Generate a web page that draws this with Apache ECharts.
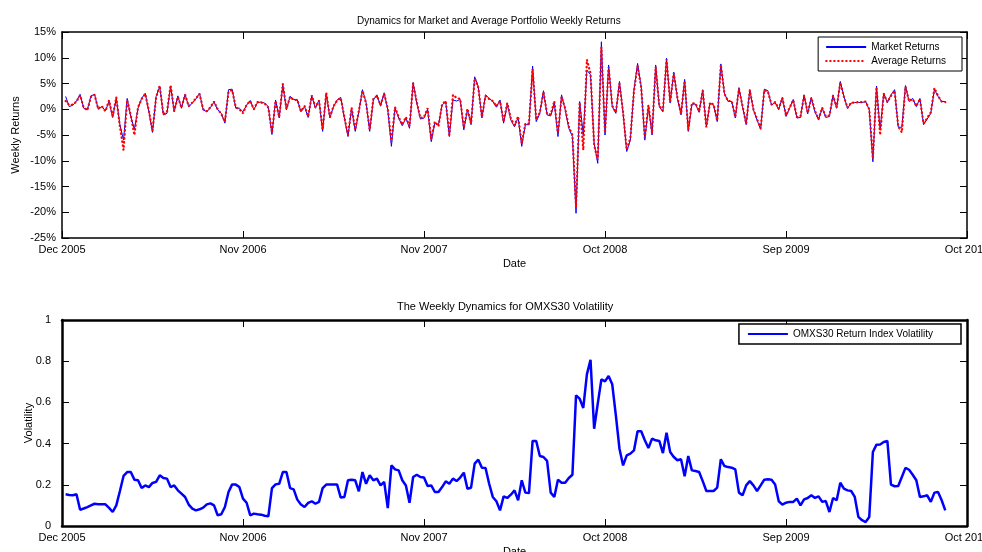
<!DOCTYPE html>
<html>
<head>
<meta charset="utf-8">
<title>Weekly Returns and OMXS30 Volatility</title>
<script src="https://cdn.jsdelivr.net/npm/echarts@6/dist/echarts.min.js"></script>
<style>
  html, body { margin: 0; padding: 0; background: #fff; overflow: hidden; }
  #chart { width: 982px; height: 552px; }
</style>
</head>
<body>
<div id="chart"></div>
<script>
// Date labels placed every 50 weeks along the observation index
const tickLabels = ["Dec 2005", "Nov 2006", "Nov 2007", "Oct 2008", "Sep 2009", "Oct 2010"];

// Weekly market returns, in percent
const marketReturns = [
  2.5, 0.5, 0.8, 1.6, 2.9, 0.2, -0.1, 2.6, 2.9, 0.0,
  0.5, -0.3, 1.5, -1.6, 2.1, -3.0, -6.0, 2.1, -1.4, -3.9,
  0.2, 2.1, 3.1, -0.5, -4.5, 2.5, 4.4, -1.1, -0.8, 4.5,
  -0.5, 2.6, 0.2, 2.9, 0.5, 1.2, 2.0, 3.1, -0.1, -0.5,
  0.3, 1.4, -0.1, -0.8, -2.7, 3.8, 3.9, 0.2, 0.2, -0.5,
  0.8, 1.7, -0.1, 1.3, 1.4, 1.2, 0.5, -4.9, 1.8, -1.7,
  4.7, -0.1, 2.5, 1.9, 1.9, -0.5, 0.5, -1.6, 2.6, 0.2,
  1.8, -4.3, 3.1, -1.7, 0.5, 1.8, 2.3, -1.7, -5.3, 0.2,
  -4.3, -0.5, 3.8, 1.3, -4.3, 1.8, 2.8, 0.6, 3.2, -0.1,
  -7.2, 0.2, -1.7, -3.2, -1.7, -3.7, 5.2, 1.2, -1.9, -1.7,
  0.0, -6.3, -2.7, -3.0, 0.8, 1.5, -5.3, 1.8, 1.6, 1.9,
  -4.0, -0.1, -3.0, 6.3, 4.4, -1.7, 2.8, 2.1, 1.5, 0.4,
  1.8, -2.7, 1.0, -2.1, -3.4, -1.6, -7.2, -3.0, -3.0, 8.4,
  -2.4, -0.8, 3.6, -1.1, -1.3, 1.2, -5.3, 2.8, -0.1, -3.7,
  -5.3, -20.2, 1.5, -5.0, 7.6, 6.7, -6.6, -10.5, 13.1, -5.0,
  8.6, 0.5, -0.8, 5.4, -0.8, -8.2, -6.0, 3.8, 8.9, 4.4,
  -6.0, 0.6, -5.0, 8.6, 0.5, -0.5, 9.9, 1.2, 7.2, 2.1,
  -1.1, 5.8, -4.3, 1.0, 1.0, -0.6, 3.8, -3.4, 1.2, 0.8,
  -2.4, 8.8, 3.1, 1.5, 1.5, -1.7, 4.2, 0.5, -3.0, 3.8,
  -0.1, -2.1, -3.9, 3.9, 3.6, 0.8, 1.3, -0.1, 2.3, -1.4,
  0.2, 1.9, -1.7, -1.6, 2.8, -0.9, 2.3, -0.5, -2.1, 0.2,
  -1.6, -1.4, 2.8, 0.2, 5.4, 2.5, 0.2, 1.2, 1.3, 1.3,
  1.3, 1.5, -0.1, -10.2, 4.5, -4.0, 3.1, 1.3, 2.8, 3.8,
  -3.5, -3.5, 4.6, 1.5, 2.1, 0.5, 2.1, -3.0, -1.9, -0.8,
  3.8, 2.5, 1.5, 1.5
];

// Weekly average portfolio returns, in percent
const averageReturns = [
  1.6, 0.8, 0.9, 1.5, 2.7, 0.3, -0.2, 2.4, 2.8, 0.1,
  0.6, -0.4, 1.7, -1.3, 2.3, -3.4, -7.9, 1.8, -1.2, -5.0,
  0.4, 2.0, 3.0, -0.3, -4.2, 2.3, 4.6, -1.0, -0.6, 4.7,
  -0.3, 2.4, 0.3, 2.8, 0.6, 1.3, 2.1, 3.0, 0.0, -0.4,
  0.4, 1.5, 0.0, -0.9, -2.4, 3.4, 3.7, 0.4, 0.0, -0.8,
  0.9, 1.6, 0.0, 1.4, 1.3, 1.1, 0.3, -4.6, 1.6, -1.5,
  4.9, 0.1, 2.4, 1.8, 1.8, -0.4, 0.6, -1.4, 2.7, 0.4,
  1.7, -4.0, 3.2, -1.5, 0.6, 1.7, 2.2, -1.5, -5.0, 0.3,
  -4.0, -0.3, 3.6, 1.2, -4.0, 2.0, 2.6, 0.8, 3.0, 0.1,
  -6.4, 0.4, -1.5, -3.0, -1.5, -3.3, 5.0, 1.4, -1.7, -1.5,
  0.2, -5.8, -2.4, -3.3, 1.0, 1.6, -5.0, 2.8, 2.2, 2.0,
  -3.6, 0.1, -2.8, 6.0, 4.2, -1.5, 2.6, 2.0, 1.6, 0.6,
  1.6, -2.4, 1.2, -1.8, -3.1, -1.4, -6.6, -2.8, -2.8, 7.8,
  -2.0, -0.6, 3.4, -0.9, -1.0, 1.6, -4.8, 2.4, 0.2, -3.4,
  -5.0, -19.0, 1.3, -7.9, 9.6, 7.0, -7.0, -9.8, 12.0, -4.6,
  8.2, 0.7, -0.6, 5.0, -0.6, -7.9, -5.6, 3.5, 8.4, 4.2,
  -5.6, 0.8, -4.6, 8.2, 0.7, -0.3, 9.7, 1.4, 7.0, 2.3,
  -0.9, 5.5, -4.0, 1.2, 1.1, -0.4, 3.6, -3.5, 1.3, 0.9,
  -2.2, 8.6, 3.0, 1.6, 1.6, -1.5, 4.0, 0.6, -2.8, 3.7,
  0.0, -1.9, -3.7, 3.7, 3.4, 0.9, 1.4, 0.1, 2.2, -1.2,
  0.3, 1.8, -1.5, -1.4, 2.6, -0.7, 2.2, -0.3, -1.9, 0.3,
  -1.4, -1.2, 2.6, 0.4, 5.2, 2.4, 0.3, 1.3, 1.3, 1.4,
  1.4, 1.5, 0.0, -9.6, 4.3, -5.0, 3.0, 1.4, 2.6, 3.6,
  -3.3, -4.5, 4.4, 1.6, 2.0, 0.6, 2.0, -2.8, -1.7, -0.6,
  4.1, 2.6, 1.5, 1.4
];

// Weekly OMXS30 return index volatility
const volatility = [
  0.154, 0.151, 0.149, 0.154, 0.079, 0.085, 0.092, 0.100, 0.108, 0.106,
  0.105, 0.105, 0.088, 0.068, 0.100, 0.170, 0.243, 0.262, 0.262, 0.225,
  0.222, 0.184, 0.197, 0.189, 0.209, 0.214, 0.246, 0.233, 0.230, 0.189,
  0.197, 0.173, 0.157, 0.141, 0.104, 0.084, 0.076, 0.081, 0.089, 0.105,
  0.110, 0.100, 0.052, 0.057, 0.092, 0.165, 0.202, 0.201, 0.189, 0.133,
  0.113, 0.052, 0.060, 0.057, 0.055, 0.050, 0.047, 0.184, 0.202, 0.205,
  0.262, 0.262, 0.184, 0.178, 0.128, 0.104, 0.092, 0.112, 0.120, 0.108,
  0.117, 0.184, 0.201, 0.201, 0.201, 0.201, 0.138, 0.141, 0.222, 0.225,
  0.222, 0.168, 0.262, 0.205, 0.246, 0.222, 0.230, 0.197, 0.214, 0.087,
  0.294, 0.275, 0.270, 0.222, 0.197, 0.113, 0.238, 0.249, 0.238, 0.235,
  0.194, 0.197, 0.165, 0.165, 0.189, 0.217, 0.205, 0.230, 0.218, 0.235,
  0.259, 0.181, 0.186, 0.303, 0.322, 0.283, 0.282, 0.205, 0.141, 0.120,
  0.076, 0.144, 0.136, 0.152, 0.173, 0.125, 0.222, 0.162, 0.160, 0.413,
  0.413, 0.340, 0.335, 0.316, 0.162, 0.141, 0.225, 0.210, 0.210, 0.233,
  0.249, 0.634, 0.618, 0.573, 0.736, 0.807, 0.472, 0.594, 0.712, 0.702,
  0.728, 0.688, 0.537, 0.375, 0.294, 0.343, 0.351, 0.367, 0.460, 0.460,
  0.416, 0.379, 0.424, 0.416, 0.413, 0.354, 0.453, 0.359, 0.335, 0.319,
  0.324, 0.241, 0.340, 0.270, 0.267, 0.262, 0.218, 0.170, 0.170, 0.170,
  0.186, 0.324, 0.291, 0.286, 0.283, 0.275, 0.162, 0.149, 0.197, 0.218,
  0.197, 0.170, 0.197, 0.225, 0.227, 0.225, 0.201, 0.120, 0.104, 0.113,
  0.117, 0.117, 0.133, 0.100, 0.129, 0.136, 0.149, 0.136, 0.144, 0.117,
  0.121, 0.068, 0.136, 0.125, 0.210, 0.181, 0.173, 0.170, 0.141, 0.044,
  0.028, 0.019, 0.044, 0.359, 0.395, 0.396, 0.408, 0.413, 0.201, 0.193,
  0.194, 0.238, 0.282, 0.273, 0.249, 0.222, 0.141, 0.144, 0.149, 0.117,
  0.162, 0.165, 0.125, 0.076
];

const FONT = "'Liberation Sans', Arial, sans-serif";
const toPairs = arr => arr.map((v, k) => [k + 1, v]);

const chart = echarts.init(document.getElementById('chart'), null, { renderer: 'canvas' });

function frameX(grid, pos, showLabel, lw) {
  return {
    type: 'value', gridIndex: grid, position: pos,
    min: 0, max: 250, interval: 50,
    axisLine: { show: true, onZero: false, lineStyle: { color: '#000', width: lw } },
    axisTick: { show: true, inside: true, length: 7, lineStyle: { color: '#000', width: 1 } },
    axisLabel: showLabel ? {
      show: true, margin: 6, color: '#000', fontSize: 11, fontFamily: FONT,
      formatter: v => tickLabels[Math.round(v / 50)]
    } : { show: false },
    splitLine: { show: false },
    name: showLabel ? 'Date' : '',
    nameLocation: 'middle', nameGap: 20,
    nameTextStyle: { color: '#000', fontSize: 11, fontFamily: FONT }
  };
}

function frameY(grid, pos, showLabel, lw, min, max, step, fmt, name, gap, labelMargin) {
  return {
    type: 'value', gridIndex: grid, position: pos,
    min: min, max: max, interval: step,
    axisLine: { show: true, onZero: false, lineStyle: { color: '#000', width: lw } },
    axisTick: { show: true, inside: true, length: 7, lineStyle: { color: '#000', width: 1 } },
    axisLabel: showLabel ? { show: true, margin: labelMargin, color: '#000', fontSize: 11, fontFamily: FONT, formatter: fmt } : { show: false },
    splitLine: { show: false },
    name: showLabel ? name : '',
    nameLocation: 'middle', nameGap: gap, nameRotate: 90,
    nameMoveOverlap: false,
    nameTextStyle: { color: '#000', fontSize: 11, fontFamily: FONT }
  };
}

const legendCommon = {
  itemWidth: 40, itemHeight: 10,
  borderColor: '#000', backgroundColor: '#fff',
  itemStyle: { opacity: 0 },
  textStyle: { fontSize: 10, color: '#000', fontFamily: FONT }
};

chart.setOption({
  animation: false,
  backgroundColor: '#fff',
  title: [
    { text: 'Dynamics for Market and Average Portfolio Weekly Returns', left: 352, top: 11,
      textStyle: { fontSize: 10, fontWeight: 'normal', color: '#000', fontFamily: FONT } },
    { text: 'The Weekly Dynamics for OMXS30 Volatility', left: 392, top: 296,
      textStyle: { fontSize: 11, fontWeight: 'normal', color: '#000', fontFamily: FONT } }
  ],
  grid: [
    { left: 62, right: 15, top: 32, height: 206, outerBoundsMode: 'none', containLabel: false },
    { left: 62, right: 15, top: 320, height: 206, outerBoundsMode: 'none', containLabel: false }
  ],
  xAxis: [
    frameX(0, 'bottom', true, 1.5),
    frameX(0, 'top', false, 1.5),
    frameX(1, 'bottom', true, 2.5),
    frameX(1, 'top', false, 2.5)
  ],
  yAxis: [
    frameY(0, 'left', true, 1.5, -25, 15, 5, v => v + '%', 'Weekly Returns', 41, 6),
    frameY(0, 'right', false, 1.5, -25, 15, 5, null, '', 0, 6),
    frameY(1, 'left', true, 2.5, 0, 1, 0.2, v => String(Math.round(v * 10) / 10), 'Volatility', 28, 11),
    frameY(1, 'right', false, 2.5, 0, 1, 0.2, null, '', 0, 6)
  ],
  legend: [
    Object.assign({}, legendCommon, {
      data: ['Market Returns', 'Average Returns'],
      orient: 'vertical', right: 20, top: 37, itemGap: 4, borderWidth: 1,
      padding: [5, 16, 5, 7]
    }),
    Object.assign({}, legendCommon, {
      data: ['OMXS30 Return Index Volatility'],
      right: 21, top: 324, borderWidth: 1.5,
      padding: [5, 28, 5, 8]
    })
  ],
  series: [
    {
      name: 'Market Returns', type: 'line', xAxisIndex: 0, yAxisIndex: 0,
      data: toPairs(marketReturns), symbol: 'none',
      lineStyle: { color: '#0000ff', width: 1 }, itemStyle: { color: '#0000ff' }, z: 2
    },
    {
      name: 'Average Returns', type: 'line', xAxisIndex: 0, yAxisIndex: 0,
      data: toPairs(averageReturns), symbol: 'none',
      lineStyle: { color: '#ff0000', width: 2.2, type: [0.5, 3.5], cap: 'round' }, itemStyle: { color: '#ff0000' }, z: 3
    },
    {
      name: 'OMXS30 Return Index Volatility', type: 'line', xAxisIndex: 2, yAxisIndex: 2,
      data: toPairs(volatility), symbol: 'none',
      lineStyle: { color: '#0000ff', width: 2.5 }, itemStyle: { color: '#0000ff' }
    }
  ]
});
</script>
</body>
</html>
